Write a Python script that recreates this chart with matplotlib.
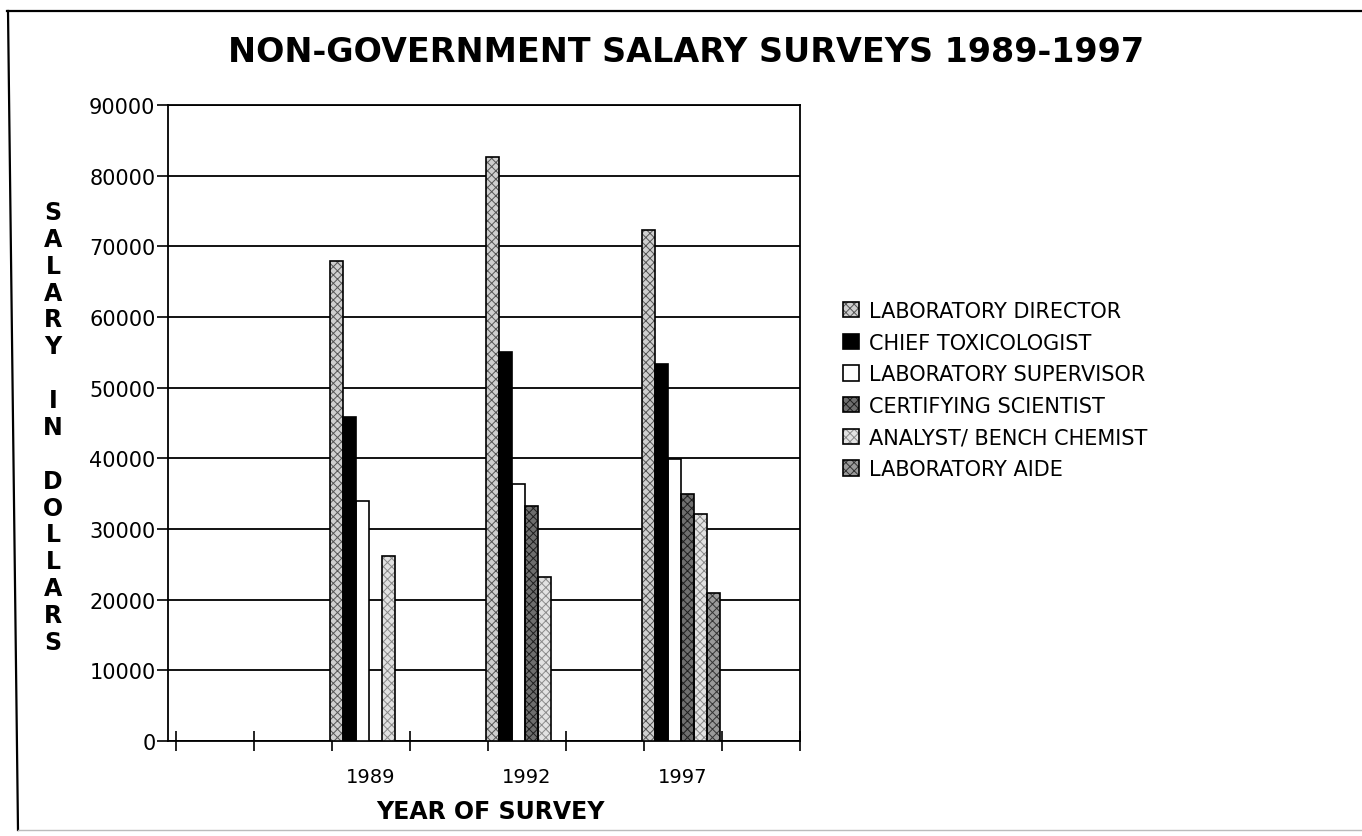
import matplotlib
matplotlib.use("Agg")
import matplotlib.pyplot as plt
import numpy as np
from matplotlib.patches import Patch
from matplotlib.legend_handler import HandlerTuple
from matplotlib.lines import Line2D

# ---------------- data ----------------
categories = ["", "", "1989", "", "1992", "", "1997", ""]
years = ["1989", "1992", "1997"]
series_names = ["LABORATORY DIRECTOR", "CHIEF TOXICOLOGIST", "LABORATORY SUPERVISOR",
                "CERTIFYING SCIENTIST", "ANALYST/ BENCH CHEMIST", "LABORATORY AIDE"]
director = [67900, 82600, 72300]
chief = [45900, 55000, 53400]
supervisor = [33900, 36400, 39900]
certifying = [0, 33200, 35000]
analyst = [26200, 23200, 32100]
aide = [0, 0, 21000]
series_values = [director, chief, supervisor, certifying, analyst, aide]
yticks = list(range(0, 90001, 10000))

# ---------------- styles ----------------
styles = [
    dict(face="#cfcfcf", hatch="xxxx", hcol="#555555"),
    dict(face="#000000", hatch=None, hcol="#000000"),
    dict(face="#ffffff", hatch=None, hcol="#ffffff"),
    dict(face="#6e6e6e", hatch="xxxx", hcol="#1e1e1e"),
    dict(face="#e2e2e2", hatch="xxxx", hcol="#8a8a8a"),
    dict(face="#9a9a9a", hatch="xxxx", hcol="#333333"),
]

plt.rcParams["font.family"] = ["DejaVu Sans"]
plt.rcParams["hatch.linewidth"] = 0.7

W, H = 1362, 837
fig = plt.figure(figsize=(W / 100, H / 100), dpi=100)
fig.patch.set_facecolor("white")

L, R, T, B = 168, 800, 106, 742
ax = fig.add_axes([L / W, 1 - B / H, (R - L) / W, (B - T) / H])

ncat = len(categories)
year_pos = [categories.index(y) for y in years]
nser = len(series_values)
bw = 1.0 / nser
offset = -0.03

for i, (vals, st) in enumerate(zip(series_values, styles)):
    xs = np.array(year_pos) + offset + i * bw
    v = np.array(vals, dtype=float)
    mask = v > 0
    ax.bar(xs[mask], v[mask], width=bw, align="edge", color=st["face"],
           hatch=st["hatch"], edgecolor=st["hcol"], linewidth=0, zorder=3)
    ax.bar(xs[mask], v[mask], width=bw, align="edge", fill=False,
           edgecolor="black", linewidth=1.2, zorder=4)

ax.set_xlim(-0.1, ncat)
ax.set_ylim(0, 90000)
ax.set_yticks(yticks)
ax.set_yticklabels([str(t) for t in yticks], fontsize=15)
ax.yaxis.grid(True, color="black", linewidth=1.3, zorder=1)
ax.set_axisbelow(True)

ax.set_xticks(np.arange(0, ncat + 1))
ax.set_xticklabels([""] * (ncat + 1))
ax.set_xticks(np.arange(ncat) + 0.5, minor=True)
ax.set_xticklabels(categories, minor=True, fontsize=14)
ax.tick_params(axis="x", which="major", direction="inout", length=14, width=1.2)
ax.tick_params(axis="x", which="minor", length=0, pad=19)
ax.tick_params(axis="y", direction="out", length=8, width=1.2, pad=1)
for s in ax.spines.values():
    s.set_linewidth(1.3)

# title
fig.text(686 / W, 1 - 53 / H, "NON-GOVERNMENT SALARY SURVEYS 1989-1997",
         ha="center", va="center", fontsize=24, fontweight="bold")
# x label
fig.text(490 / W, 1 - 812 / H, "YEAR OF SURVEY", ha="center", va="center",
         fontsize=17, fontweight="bold")
# vertical stacked y label
ylabel = "SALARY IN DOLLARS"
letters = list(ylabel)
y0, y1 = 213, 643
for k, ch in enumerate(letters):
    if ch == " ":
        continue
    yy = y0 + (y1 - y0) * k / (len(letters) - 1)
    fig.text(53 / W, 1 - yy / H, ch, ha="center", va="center",
             fontsize=17, fontweight="bold")

# legend
handles = []
for st in styles:
    p1 = Patch(facecolor=st["face"], hatch=st["hatch"], edgecolor=st["hcol"], linewidth=0)
    p2 = Patch(fill=False, edgecolor="black", linewidth=1.2)
    handles.append((p1, p2))
fig.legend(handles, series_names, handler_map={tuple: HandlerTuple(ndivide=1, pad=0)},
           loc="upper left", bbox_to_anchor=(843 / W, 1 - 302 / H), frameon=False,
           fontsize=15, handlelength=0.75, handleheight=0.75, handletextpad=0.5,
           labelspacing=0.56, borderaxespad=0, borderpad=0)

# page border (scan frame)
fig.add_artist(Line2D([7 / W, 1.0], [1 - 12 / H, 1 - 12 / H], color="black", linewidth=1.6,
                      transform=fig.transFigure))
fig.add_artist(Line2D([8 / W, 18 / W], [1 - 12 / H, 1 - 831 / H], color="black", linewidth=1.6,
                      transform=fig.transFigure))
fig.add_artist(Line2D([18 / W, 1.0], [1 - 831 / H, 1 - 831 / H], color="#bbbbbb", linewidth=1.0,
                      transform=fig.transFigure))

fig.savefig("out.png", dpi=100, facecolor="white")
